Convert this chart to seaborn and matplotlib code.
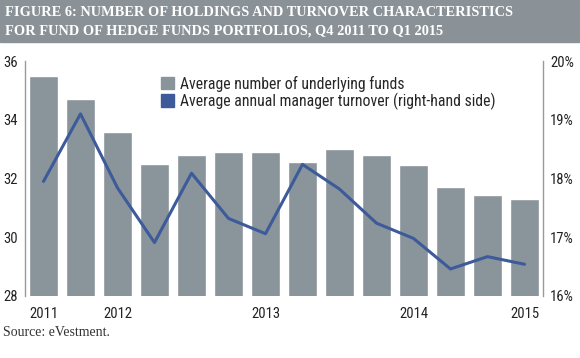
import numpy as np
import pandas as pd
import matplotlib
matplotlib.use("Agg")
import matplotlib.pyplot as plt
from matplotlib.patches import Patch
import seaborn as sns

quarters = ["Q4 2011", "Q1 2012", "Q2 2012", "Q3 2012", "Q4 2012", "Q1 2013", "Q2 2013",
            "Q3 2013", "Q4 2013", "Q1 2014", "Q2 2014", "Q3 2014", "Q4 2014", "Q1 2015"]
num_funds = [35.5, 34.7, 33.6, 32.5, 32.8, 32.9, 32.9, 32.55, 33.0, 32.8, 32.45, 31.7, 31.45, 31.3]
turnover = [17.95, 19.1, 17.84, 16.91, 18.09, 17.32, 17.06, 18.24, 17.82, 17.24, 16.98, 16.46, 16.67, 16.54]
year_ticks = {0: "2011", 2: "2012", 6: "2013", 10: "2014", 13: "2015"}

bar_col = "#8a949b"
line_col = "#3d5a9a"
spine_col = "#9a9a9a"
title_font = ["Liberation Serif", "DejaVu Serif"]

df = pd.DataFrame({"quarter": quarters, "funds": num_funds, "turnover": turnover})

sns.set_style("white")
plt.rcParams["font.family"] = ["Roboto Condensed", "DejaVu Sans"]

fig = plt.figure(figsize=(5.8, 3.58), dpi=100)
ax = fig.add_axes([0.0431, 0.1732, 0.8931, 0.6564])

sns.barplot(data=df, x="quarter", y="funds", color=bar_col, width=0.79,
            saturation=1, ax=ax)
ax.set_ylim(28, 36)
ax.set_xlim(-0.5, 13.5)
ax.set_yticks([28, 30, 32, 34, 36])
ax.set_xticks(list(year_ticks.keys()))
ax.set_xticklabels(list(year_ticks.values()))
ax.set_xlabel("")
ax.set_ylabel("")
ax.tick_params(axis="both", length=0, labelsize=10.5, colors="#222222")
ax.tick_params(axis="y", pad=5)
ax.tick_params(axis="x", pad=8)
for s in ["top", "right", "bottom"]:
    ax.spines[s].set_visible(False)
ax.spines["left"].set_color(spine_col)
ax.spines["left"].set_linewidth(1)

ax2 = ax.twinx()
sns.lineplot(x=np.arange(len(quarters)), y=turnover, color=line_col, linewidth=2.2, ax=ax2)
ax2.set_ylim(16, 20)
ax2.set_yticks([16, 17, 18, 19, 20])
ax2.set_yticklabels([f"{v}%" for v in [16, 17, 18, 19, 20]])
ax2.tick_params(axis="y", length=0, labelsize=10.5, colors="#222222", pad=5)
for s in ["top", "left", "bottom"]:
    ax2.spines[s].set_visible(False)
ax2.spines["right"].set_color(spine_col)
ax2.spines["right"].set_linewidth(1)

handles = [Patch(color=bar_col), Patch(color=line_col)]
labels = ["Average number of underlying funds",
          "Average annual manager turnover (right-hand side)"]
ax.legend(handles, labels, loc="upper left", bbox_to_anchor=(0.25, 0.965),
          frameon=False, fontsize=11.3, handlelength=0.85, handleheight=0.85,
          handletextpad=0.4, labelspacing=0.05, borderaxespad=0)

# title band
fig.patches.append(plt.Rectangle((0, 1 - 42 / 358), 1, 42 / 358, transform=fig.transFigure,
                                 color="#8a9197", zorder=0))
fig.text(0.008, 1 - 12 / 358, "FIGURE 6: NUMBER OF HOLDINGS AND TURNOVER CHARACTERISTICS",
         color="white", fontsize=10.4, family=title_font, va="center", weight="bold")
fig.text(0.008, 1 - 31 / 358, "FOR FUND OF HEDGE FUNDS PORTFOLIOS, Q4 2011 TO Q1 2015",
         color="white", fontsize=10.4, family=title_font, va="center", weight="bold")
fig.text(0.006, 1 - 333 / 358, "Source: eVestment.", color="#333333", fontsize=10,
         family=title_font, va="center")

fig.savefig("out.png", dpi=100)
